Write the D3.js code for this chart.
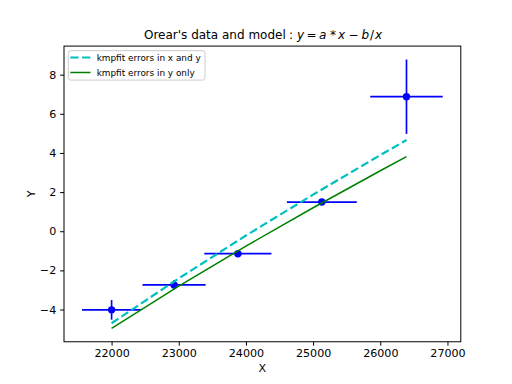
<!DOCTYPE html>
<html>
<head>
<meta charset="utf-8">
<script src="https://cdn.jsdelivr.net/npm/d3@7"></script>
<style>
  body { margin: 0; background: #fff; }
  svg text { font-family: "DejaVu Sans", sans-serif; }
</style>
</head>
<body>
<svg id="chart"></svg>
<script>
// Orear's data
const xData = [22000, 22930, 23880, 25130, 26390];
const xErr = [440, 470, 500, 520, 540];
const yData = [-4.017, -2.742, -1.1478, 1.491, 6.873];
const yErr = [0.5, 0.25, 0.08, 0.09, 1.90];

// model curves
const modelX = [22000, 23000, 24000, 25000, 26000, 26390];
const fitXY = [-4.70, -2.41, -0.22, 1.87, 3.89, 4.66];
const fitY = [-4.96, -2.81, -0.76, 1.20, 3.09, 3.81];

const xTicks = [22000, 23000, 24000, 25000, 26000, 27000];
const yTicks = [-4, -2, 0, 2, 4, 6, 8];

const W = 512, H = 384;
const margin = {left: 64, right: 51.2, top: 46.08, bottom: 42.24};
const width = W - margin.left - margin.right;
const height = H - margin.top - margin.bottom;

const svg = d3.select("#chart").attr("width", W).attr("height", H);
const g = svg.append("g").attr("transform", "translate(" + margin.left + "," + margin.top + ")");

//Autoscale like matplotlib, 5% margins around everything drawn
const xlo = d3.min(xData.map((d, i) => d - xErr[i]));
const xhi = d3.max(xData.map((d, i) => d + xErr[i]));
const ylo = d3.min(yData.map((d, i) => d - yErr[i]).concat(fitXY, fitY));
const yhi = d3.max(yData.map((d, i) => d + yErr[i]).concat(fitXY, fitY));
const xPad = (xhi - xlo) * 0.05, yPad = (yhi - ylo) * 0.05;

const xScale = d3.scaleLinear().domain([xlo - xPad, xhi + xPad]).range([0, width]);
const yScale = d3.scaleLinear().domain([ylo - yPad, yhi + yPad]).range([height, 0]);

const pts = xData.map((d, i) => ({x: d, y: yData[i], ex: xErr[i], ey: yErr[i]}));

//Error bars
const blue = "#0000ff";
g.selectAll("line.xerr").data(pts).join("line")
    .attr("x1", d => xScale(d.x - d.ex)).attr("x2", d => xScale(d.x + d.ex))
    .attr("y1", d => yScale(d.y)).attr("y2", d => yScale(d.y))
    .attr("stroke", blue).attr("stroke-width", 1.67);
g.selectAll("line.yerr").data(pts).join("line")
    .attr("x1", d => xScale(d.x)).attr("x2", d => xScale(d.x))
    .attr("y1", d => yScale(d.y - d.ey)).attr("y2", d => yScale(d.y + d.ey))
    .attr("stroke", blue).attr("stroke-width", 1.67);
g.selectAll("circle.pt").data(pts).join("circle")
    .attr("cx", d => xScale(d.x)).attr("cy", d => yScale(d.y))
    .attr("r", 3.7).attr("fill", blue);

//Model lines
const line = d3.line().x((d, i) => xScale(modelX[i])).y(d => yScale(d));
g.append("path").datum(fitXY)
    .attr("fill", "none").attr("stroke", "#00bfbf").attr("stroke-width", 2.2)
    .attr("stroke-dasharray", "8.2,3.6").attr("d", line);
g.append("path").datum(fitY)
    .attr("fill", "none").attr("stroke", "#008000").attr("stroke-width", 1.5)
    .attr("d", line);

//Frame
g.append("rect").attr("width", width).attr("height", height)
    .attr("fill", "none").attr("stroke", "#000").attr("stroke-width", 1);

//Axes
const xAxis = g.append("g").attr("transform", "translate(0," + height + ")")
    .call(d3.axisBottom(xScale).tickValues(xTicks).tickSize(3.9).tickPadding(3.9).tickFormat(d3.format("d")));
const yAxis = g.append("g")
    .call(d3.axisLeft(yScale).tickValues(yTicks).tickSize(3.9).tickPadding(3.9).tickFormat(d => d < 0 ? "\u2212" + Math.abs(d) : d));
[xAxis, yAxis].forEach(a => {
    a.select(".domain").remove();
    a.selectAll("text").attr("font-size", 11.1).attr("font-family", "DejaVu Sans").attr("fill", "#000");
    a.selectAll("line").attr("stroke", "#000");
});

//Labels
svg.append("text").attr("x", margin.left + width / 2).attr("y", 372)
    .attr("text-anchor", "middle").attr("font-size", 11.1).text("X");
svg.append("text").attr("transform", "translate(35," + (margin.top + height / 2) + ") rotate(-90)")
    .attr("text-anchor", "middle").attr("font-size", 11.1).text("Y");

//Title, math part set glyph by glyph like mathtext
const title = svg.append("text").attr("y", 39).attr("font-size", 12);
title.append("tspan").attr("x", 144).text("Orear's data and model");
const mathParts = [[":", false, 289], ["y", true, 297], ["=", false, 306.5], ["a", true, 319],
    ["*", false, 330], ["x", true, 338], ["\u2212", false, 348.5], ["b", true, 361.5],
    ["/", false, 370], ["x", true, 375]];
mathParts.forEach(p => title.append("tspan").attr("x", p[2])
    .attr("font-style", p[1] ? "italic" : null).text(p[0]));

//Legend
const legend = g.append("g").attr("transform", "translate(4.3,4.6)");
legend.append("rect").attr("width", 136.7).attr("height", 29.4).attr("rx", 2.5)
    .attr("fill", "#fff").attr("fill-opacity", 0.8).attr("stroke", "#cccccc").attr("stroke-width", 1);
const legItems = [
    {label: "kmpfit errors in x and y", color: "#00bfbf", dash: "8.2,3.6", w: 2.2},
    {label: "kmpfit errors in y only", color: "#008000", dash: null, w: 1.5}
];
legItems.forEach((d, i) => {
    const yy = 6.8 + i * 15;
    legend.append("line").attr("x1", 2).attr("x2", 22.2).attr("y1", yy).attr("y2", yy)
        .attr("stroke", d.color).attr("stroke-width", d.w).attr("stroke-dasharray", d.dash);
    legend.append("text").attr("x", 28.4).attr("y", yy + 3.2).attr("font-size", 8.9).text(d.label);
});
</script>
</body>
</html>
